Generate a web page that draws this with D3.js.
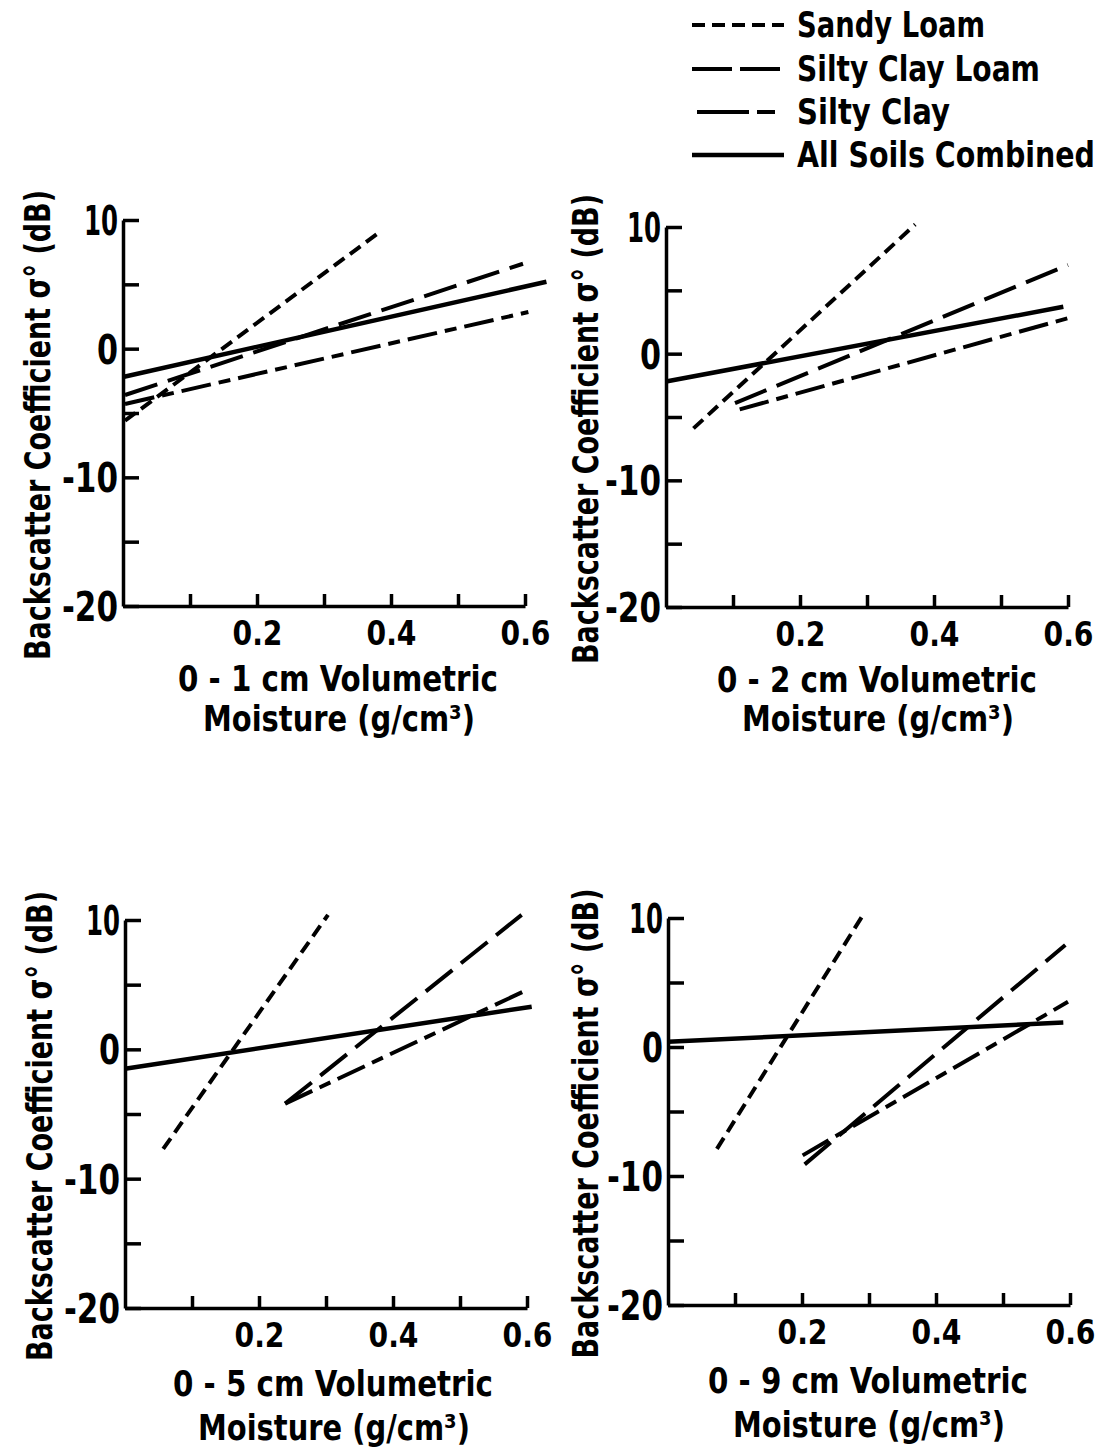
<!DOCTYPE html>
<html lang="en">
<head>
    <meta charset="UTF-8">
    <title>Backscatter vs moisture</title>
    <script src="https://cdn.jsdelivr.net/npm/d3@7/dist/d3.min.js"></script>
    <style>
        body { margin: 0; background: #fff; }
        text { font-family: "Liberation Sans Narrow", "DejaVu Sans Condensed", "DejaVu Sans", sans-serif; font-weight: bold; fill: #000; }
    </style>
</head>
<body>
<script type="text/javascript">
    // data: each line is [start, end] as [moisture, dB]
    var depths = ["0 - 1 cm", "0 - 2 cm", "0 - 5 cm", "0 - 9 cm"];
    var soils = ["Sandy Loam", "Silty Clay Loam", "Silty Clay", "All Soils Combined"];
    var sandyLoam = [
        [[0.003, -5.6], [0.384, 9.1]],
        [[0.041, -5.9], [0.372, 10.2]],
        [[0.057, -7.7], [0.303, 10.4]],
        [[0.073, -7.9], [0.293, 10.4]]
    ];
    var siltyClayLoam = [
        [[0.003, -3.6], [0.597, 6.6]],
        [[0.103, -3.9], [0.600, 7.0]],
        [[0.239, -4.2], [0.592, 10.4]],
        [[0.204, -9.1], [0.593, 7.9]]
    ];
    var siltyClay = [
        [[0.003, -4.3], [0.605, 2.85]],
        [[0.110, -4.4], [0.600, 2.8]],
        [[0.239, -4.2], [0.600, 4.6]],
        [[0.201, -8.4], [0.597, 3.5]]
    ];
    var allSoils = [
        [[0.0, -2.2], [0.632, 5.2]],
        [[0.0, -2.2], [0.593, 3.7]],
        [[0.0, -1.5], [0.607, 3.3]],
        [[0.0, 0.4], [0.590, 1.9]]
    ];
    var xTicks = [0.1, 0.2, 0.3, 0.4, 0.5, 0.6];
    var xLabelled = [0.2, 0.4, 0.6];
    var yTicks = [-20, -15, -10, -5, 0, 5, 10];
    var yLabelled = [-20, -10, 0, 10];

    var series = [sandyLoam, siltyClayLoam, siltyClay, allSoils];
    var dashes = ["13,7", "34,11", "30,8,12,8", null];
    var legendDashes = ["13,7", "40,8", "52,8,18,100", null];
    var widths = [4, 4, 4, 4.5];

    // panel frames in page pixels
    var panels = [
        {left: 123, top: 220, bottom: 606, labelX: 37, titleX: 338, t1: 85, t2: 125},
        {left: 666, top: 227, bottom: 607, labelX: 585, titleX: 877, t1: 85, t2: 124},
        {left: 125, top: 920, bottom: 1308, labelX: 39, titleX: 333, t1: 88, t2: 132},
        {left: 668, top: 918, bottom: 1305, labelX: 585, titleX: 868, t1: 88, t2: 132}
    ];
    var plotW = 402;

    // squeeze the wide fallback font to the narrow widths of the original lettering
    var yTickWidth = {1: 21, 2: 34, 3: 56};

    var svg = d3.select('body').append('svg')
            .attr('width', 1110)
            .attr('height', 1450);

    panels.forEach(function (p, i) {
        var x = d3.scaleLinear().domain([0, 0.6]).range([p.left, p.left + plotW]);
        var y = d3.scaleLinear().domain([-20, 10]).range([p.bottom, p.top]);

        var yAxis = d3.axisLeft(y)
                .tickValues(yTicks)
                .tickSizeInner(-16)
                .tickSizeOuter(0)
                .tickPadding(5)
                .tickFormat(function (d) { return yLabelled.indexOf(d) >= 0 ? d : ''; });
        var gy = svg.append('g')
                .attr('transform', 'translate(' + p.left + ',0)')
                .call(yAxis);

        var xAxis = d3.axisBottom(x)
                .tickValues(xTicks)
                .tickSizeInner(-12)
                .tickSizeOuter(0)
                .tickPadding(9)
                .tickFormat(function (d) { return xLabelled.indexOf(d) >= 0 ? d3.format('.1f')(d) : ''; });
        var gx = svg.append('g')
                .attr('transform', 'translate(0,' + p.bottom + ')')
                .call(xAxis);

        [gx, gy].forEach(function (g) {
            g.attr('font-family', null).attr('font-size', null);
            g.select('.domain').attr('stroke', '#000').attr('stroke-width', 3.5);
            g.selectAll('.tick line').attr('stroke', '#000').attr('stroke-width', 3.5);
        });
        gy.selectAll('.tick text')
                .style('font-size', '40px')
                .attr('dy', '0.36em')
                .each(function () {
                    var s = this.textContent;
                    if (s) d3.select(this).attr('textLength', yTickWidth[s.length]).attr('lengthAdjust', 'spacingAndGlyphs');
                });
        gx.selectAll('.tick text')
                .style('font-size', '33px')
                .attr('dy', '0.9em')
                .each(function () {
                    if (this.textContent) d3.select(this).attr('textLength', 50).attr('lengthAdjust', 'spacingAndGlyphs');
                });

        // x-axis title, two lines
        svg.append('text')
                .attr('x', p.titleX)
                .attr('y', p.bottom + p.t1)
                .attr('text-anchor', 'middle')
                .attr('textLength', 320)
                .attr('lengthAdjust', 'spacingAndGlyphs')
                .style('font-size', '36px')
                .text(depths[i] + ' Volumetric');
        svg.append('text')
                .attr('x', p.titleX + 1)
                .attr('y', p.bottom + p.t2)
                .attr('text-anchor', 'middle')
                .attr('textLength', 272)
                .attr('lengthAdjust', 'spacingAndGlyphs')
                .style('font-size', '36px')
                .text('Moisture (g/cm³)');

        // y-axis title
        svg.append('text')
                .attr('transform', 'translate(' + p.labelX + ',' + ((p.top + p.bottom) / 2 + 12) + ') rotate(-90)')
                .attr('dy', '0.35em')
                .attr('text-anchor', 'middle')
                .attr('textLength', 470)
                .attr('lengthAdjust', 'spacingAndGlyphs')
                .style('font-size', '36px')
                .text('Backscatter Coefficient σ° (dB)');

        // regression lines
        var line = d3.line()
                .x(function (d) { return x(d[0]); })
                .y(function (d) { return y(d[1]); });
        series.forEach(function (s, k) {
            svg.append('path')
                    .attr('d', line(s[i]))
                    .attr('fill', 'none')
                    .attr('stroke', '#000')
                    .attr('stroke-width', widths[k])
                    .attr('stroke-dasharray', dashes[k]);
        });
    });

    // legend
    var legendY = [37, 81, 124, 167];
    var legendW = [188, 243, 153, 298];
    var legend = svg.append('g');
    soils.forEach(function (name, k) {
        legend.append('line')
                .attr('x1', k === 2 ? 697 : 692)
                .attr('x2', 784)
                .attr('y1', legendY[k] - 12)
                .attr('y2', legendY[k] - 12)
                .attr('stroke', '#000')
                .attr('stroke-width', widths[k])
                .attr('stroke-dasharray', legendDashes[k]);
        var t = legend.append('text')
                .style('font-size', '35px')
                .text(name);
        // scale the label horizontally so it spans the same width as in the original
        var sx = legendW[k] / t.node().getComputedTextLength();
        t.attr('transform', 'translate(797,' + legendY[k] + ') scale(' + sx + ',1)');
    });
</script>
</body>
</html>
